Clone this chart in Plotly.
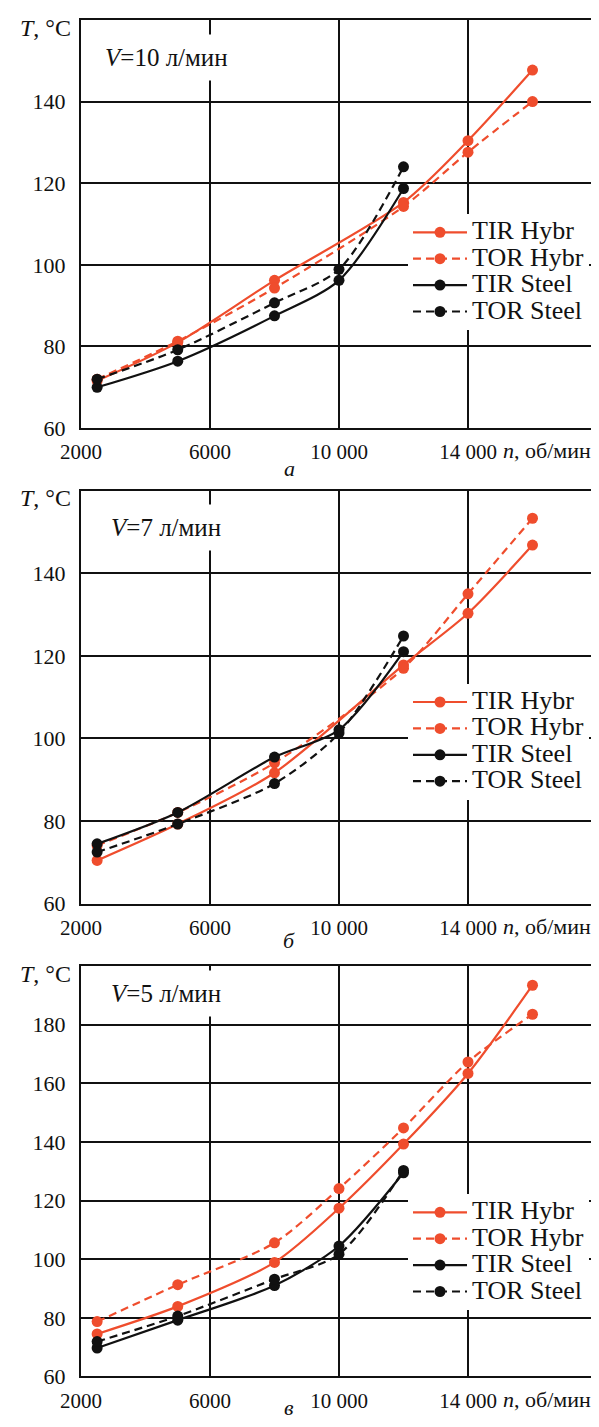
import plotly.graph_objects as go

# ---------------- data ----------------
rpm_hybr_a = [2500, 5000, 8000, 12000, 14000, 16000]
tir_hybr_a = [71.6, 81.0, 96.2, 115.3, 130.4, 147.7]
tor_hybr_a = [72.0, 81.3, 94.3, 114.3, 127.6, 140.0]
rpm_steel_a = [2500, 5000, 8000, 10000, 12000]
tir_steel_a = [70.0, 76.4, 87.5, 96.2, 118.7]
tor_steel_a = [72.0, 79.2, 90.7, 98.9, 124.0]

rpm_hybr_b = [2500, 5000, 8000, 12000, 14000, 16000]
tir_hybr_b = [70.5, 79.3, 91.7, 117.8, 130.3, 146.8]
tor_hybr_b = [74.1, 82.1, 94.1, 117.0, 135.0, 153.3]
rpm_steel_b = [2500, 5000, 8000, 10000, 12000]
tir_steel_b = [74.5, 82.1, 95.5, 102.1, 121.0]
tor_steel_b = [72.5, 79.3, 89.1, 101.3, 124.8]

rpm_hybr_c = [2500, 5000, 8000, 10000, 12000, 14000, 16000]
tir_hybr_c = [74.5, 83.9, 98.9, 117.4, 139.3, 163.4, 193.5]
tor_hybr_c = [78.7, 91.3, 105.6, 124.1, 144.8, 167.3, 183.6]
rpm_steel_c = [2500, 5000, 8000, 10000, 12000]
tir_steel_c = [69.7, 79.2, 91.0, 104.5, 129.5]
tor_steel_c = [71.9, 80.6, 93.2, 101.7, 130.3]

series_names = ["TIR Hybr", "TOR Hybr", "TIR Steel", "TOR Steel"]
flow_labels = ["<i>V</i>=10 л/мин", "<i>V</i>=7 л/мин", "<i>V</i>=5 л/мин"]
panel_letters = ["а", "б", "в"]
x_tickvals = [2000, 6000, 10000, 14000]
x_ticktext = ["2000", "6000", "10 000", "14 000"]
y_tickvals_ab = [60, 80, 100, 120, 140]
y_tickvals_c = [60, 80, 100, 120, 140, 160, 180]

# ---------------- layout helpers ----------------
W, H = 599, 1427
ML, MR = 73, 10
PW = W - ML - MR
RED = "#EF4D2D"
BLACK = "#111111"
FONT = '"Liberation Serif", "DejaVu Serif", serif'


def py(y):
    return 1 - y / H


def px(x):
    return (x - ML) / PW


panels = [
    dict(top=12, bottom=424, yr=[60, 160], yt=y_tickvals_ab,
         data=[(rpm_hybr_a, tir_hybr_a), (rpm_hybr_a, tor_hybr_a),
               (rpm_steel_a, tir_steel_a), (rpm_steel_a, tor_steel_a)]),
    dict(top=487, bottom=904, yr=[60, 160], yt=y_tickvals_ab,
         data=[(rpm_hybr_b, tir_hybr_b), (rpm_hybr_b, tor_hybr_b),
               (rpm_steel_b, tir_steel_b), (rpm_steel_b, tor_steel_b)]),
    dict(top=967, bottom=1381, yr=[60, 200], yt=y_tickvals_c,
         data=[(rpm_hybr_c, tir_hybr_c), (rpm_hybr_c, tor_hybr_c),
               (rpm_steel_c, tir_steel_c), (rpm_steel_c, tor_steel_c)]),
]
legend_rows_top = [208, 682, 1197]
letter_y = [465, 941, 1412]
vlabel_y = [50, 524, 995]

styles = [(RED, "solid"), (RED, "8px,5px"), (BLACK, "solid"), (BLACK, "8px,5px")]

fig = go.Figure()
layout = dict(
    width=W, height=H,
    margin=dict(l=ML, r=MR, t=0, b=0),
    paper_bgcolor="white", plot_bgcolor="white",
    font=dict(family=FONT, size=21, color=BLACK),
    annotations=[],
)

for i, p in enumerate(panels):
    sfx = "" if i == 0 else str(i + 1)
    xa, ya = "x" + sfx, "y" + sfx
    leg = "legend" + sfx
    for k, (name, (c, d)) in enumerate(zip(series_names, styles)):
        xs, ys = p["data"][k]
        fig.add_trace(go.Scatter(
            x=xs, y=ys, mode="lines+markers", name=f"<span style='font-size:26px'>{name}</span>",
            line=dict(color=c, width=2.2, dash=d, shape="spline", smoothing=0.8),
            marker=dict(color=c, size=11),
            xaxis=xa, yaxis=ya, legend=leg, showlegend=True,
        ))
    common_axis = dict(showline=True, linecolor=BLACK, linewidth=2, mirror=True,
                       showgrid=True, gridcolor=BLACK, gridwidth=1.5,
                       zeroline=False, ticks="")
    layout["xaxis" + sfx] = dict(common_axis, domain=[0, 1], range=[2000, 18000],
                                 anchor=ya, tickvals=x_tickvals, ticktext=x_ticktext,
                                 ticklabelstandoff=4,
                                 tickfont=dict(family=FONT, size=21, color=BLACK))
    layout["yaxis" + sfx] = dict(common_axis, domain=[py(p["bottom"]), py(p["top"])],
                                 range=p["yr"], anchor=xa, tickvals=p["yt"],
                                 ticklabelstandoff=9,
                                 tickfont=dict(family=FONT, size=22, color=BLACK))
    layout[leg] = dict(x=px(400), y=py(legend_rows_top[i]), xanchor="left", yanchor="top",
                       bgcolor="white", borderwidth=0, itemwidth=54,
                       font=dict(family=FONT, size=18, color=BLACK), tracegroupgap=0)
    layout["annotations"] += [
        dict(text="<i>T</i>, °C", xref="paper", yref="paper", x=px(65), y=py(p["top"] + 8),
             xanchor="right", yanchor="middle", showarrow=False,
             font=dict(family=FONT, size=24, color=BLACK)),
        dict(text="<i>n</i>, об/мин", xref="paper", yref="paper", x=px(493),
             y=py(p["bottom"] + 23), xanchor="left", yanchor="middle", showarrow=False,
             font=dict(family=FONT, size=22, color=BLACK)),
        dict(text=flow_labels[i], xref="paper", yref="paper", x=px(158), y=py(vlabel_y[i]),
             xanchor="center", yanchor="middle", showarrow=False, bgcolor="white",
             borderpad=9, font=dict(family=FONT, size=25, color=BLACK)),
        dict(text=f"<i>{panel_letters[i]}</i>", xref="paper", yref="paper", x=px(281),
             y=py(letter_y[i]), xanchor="center", yanchor="middle", showarrow=False,
             font=dict(family=FONT, size=22, color=BLACK)),
    ]

fig.update_layout(**layout)
fig.write_html("out.html")
